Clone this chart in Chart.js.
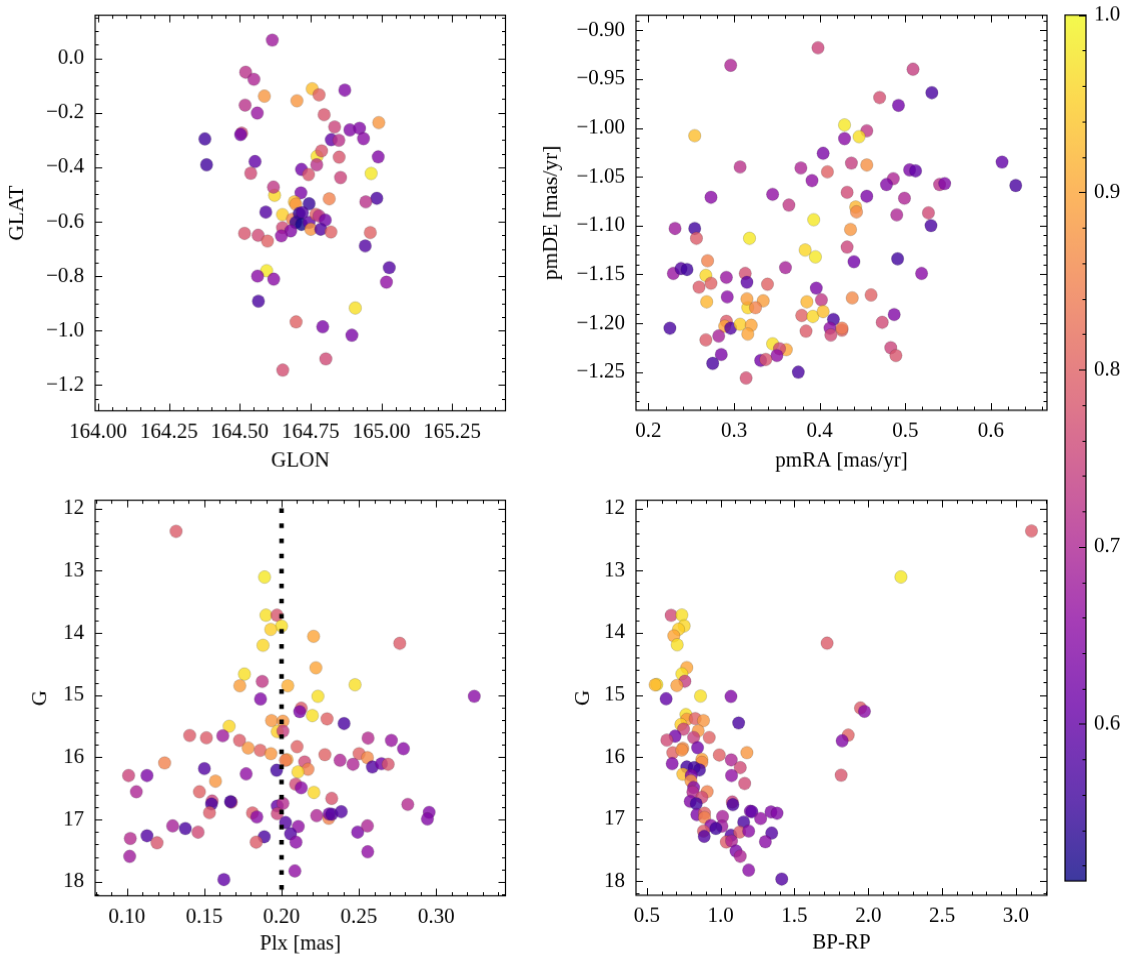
<!DOCTYPE html>
<html><head><meta charset="utf-8">
<script src="https://cdn.jsdelivr.net/npm/chart.js@4.4.0/dist/chart.umd.min.js"></script>
<style>
html,body{margin:0;padding:0;background:#fff;}
#wrap{position:relative;width:1133px;height:965px;overflow:hidden;background:#fff;}
canvas{position:absolute;}
</style></head><body><div id="wrap"></div>
<script>
// ---------- Panel A: GLON vs GLAT ----------
const glon = [164.615,164.521,164.550,164.587,164.756,164.780,164.702,164.871,164.519,164.562,164.798,164.991,164.835,164.889,164.923,164.507,164.503,164.377,164.823,164.850,164.937,164.773,164.789,164.851,164.989,164.383,164.554,164.772,164.718,164.539,164.743,164.856,164.964,164.623,164.619,164.716,164.816,164.984,164.945,164.693,164.745,164.592,164.651,164.698,164.686,164.710,164.721,164.698,164.718,164.745,164.769,164.780,164.802,164.751,164.786,164.822,164.651,164.680,164.647,164.517,164.565,164.598,164.961,164.943,165.028,165.018,164.595,164.563,164.620,164.566,164.908,164.699,164.793,164.896,164.804,164.652];
const glat = [0.067,-0.051,-0.077,-0.139,-0.112,-0.134,-0.156,-0.117,-0.172,-0.201,-0.207,-0.236,-0.252,-0.263,-0.257,-0.275,-0.280,-0.296,-0.299,-0.301,-0.295,-0.360,-0.340,-0.363,-0.362,-0.391,-0.379,-0.391,-0.408,-0.422,-0.427,-0.438,-0.423,-0.503,-0.473,-0.494,-0.516,-0.514,-0.527,-0.527,-0.534,-0.565,-0.574,-0.536,-0.591,-0.570,-0.567,-0.603,-0.610,-0.603,-0.573,-0.579,-0.594,-0.628,-0.628,-0.638,-0.622,-0.634,-0.652,-0.643,-0.650,-0.671,-0.640,-0.689,-0.769,-0.822,-0.780,-0.800,-0.811,-0.892,-0.917,-0.968,-0.986,-1.017,-1.104,-1.145];
const probA = [0.68,0.72,0.70,0.88,0.93,0.80,0.88,0.64,0.72,0.67,0.78,0.88,0.75,0.64,0.64,0.76,0.62,0.56,0.60,0.72,0.65,0.97,0.78,0.78,0.64,0.56,0.60,0.72,0.62,0.76,0.78,0.75,0.98,0.96,0.73,0.63,0.85,0.57,0.72,0.93,0.55,0.58,0.95,0.88,0.85,0.55,0.58,0.55,0.52,0.60,0.80,0.72,0.62,0.88,0.58,0.80,0.76,0.64,0.66,0.78,0.76,0.80,0.80,0.58,0.58,0.66,0.98,0.65,0.65,0.57,0.97,0.80,0.63,0.63,0.76,0.77];

// ---------- Panel B: pmRA vs pmDE ----------
const pmra = [0.398,0.296,0.509,0.531,0.470,0.492,0.254,0.429,0.455,0.429,0.446,0.404,0.307,0.378,0.437,0.455,0.409,0.391,0.505,0.512,0.613,0.629,0.486,0.478,0.540,0.546,0.273,0.345,0.432,0.455,0.499,0.364,0.442,0.443,0.490,0.527,0.393,0.231,0.254,0.256,0.318,0.383,0.395,0.432,0.436,0.530,0.440,0.491,0.519,0.229,0.238,0.245,0.269,0.267,0.259,0.273,0.291,0.313,0.315,0.339,0.360,0.396,0.402,0.268,0.292,0.316,0.315,0.334,0.325,0.385,0.438,0.460,0.487,0.379,0.392,0.404,0.416,0.473,0.291,0.289,0.296,0.307,0.320,0.316,0.225,0.384,0.412,0.426,0.426,0.413,0.267,0.282,0.345,0.361,0.353,0.350,0.285,0.275,0.331,0.337,0.483,0.489,0.375,0.314];
const pmde = [-0.918,-0.936,-0.940,-0.964,-0.969,-0.977,-1.008,-0.997,-1.003,-1.011,-1.009,-1.026,-1.040,-1.041,-1.036,-1.038,-1.045,-1.054,-1.043,-1.044,-1.035,-1.059,-1.052,-1.058,-1.058,-1.057,-1.071,-1.068,-1.066,-1.070,-1.072,-1.079,-1.081,-1.086,-1.089,-1.087,-1.094,-1.103,-1.103,-1.113,-1.113,-1.125,-1.132,-1.122,-1.104,-1.100,-1.137,-1.134,-1.149,-1.149,-1.144,-1.145,-1.136,-1.151,-1.163,-1.159,-1.153,-1.149,-1.158,-1.160,-1.143,-1.164,-1.176,-1.178,-1.173,-1.184,-1.175,-1.177,-1.184,-1.178,-1.174,-1.171,-1.191,-1.192,-1.193,-1.188,-1.196,-1.199,-1.198,-1.203,-1.205,-1.201,-1.202,-1.211,-1.205,-1.208,-1.205,-1.207,-1.205,-1.212,-1.217,-1.213,-1.221,-1.227,-1.226,-1.233,-1.232,-1.241,-1.238,-1.237,-1.225,-1.233,-1.250,-1.256];
const probB = [0.75,0.70,0.74,0.57,0.77,0.62,0.93,0.98,0.73,0.65,0.97,0.63,0.72,0.70,0.74,0.87,0.80,0.66,0.63,0.60,0.60,0.57,0.70,0.64,0.72,0.64,0.65,0.66,0.76,0.63,0.70,0.73,0.92,0.86,0.70,0.76,0.98,0.68,0.56,0.79,0.98,0.96,0.98,0.75,0.88,0.57,0.62,0.56,0.65,0.67,0.58,0.56,0.85,0.96,0.79,0.80,0.67,0.77,0.59,0.80,0.69,0.63,0.73,0.92,0.65,0.96,0.89,0.89,0.85,0.92,0.86,0.80,0.64,0.80,0.96,0.93,0.57,0.76,0.79,0.90,0.58,0.95,0.90,0.90,0.57,0.79,0.66,0.80,0.84,0.76,0.79,0.69,0.97,0.90,0.76,0.66,0.63,0.57,0.62,0.78,0.75,0.78,0.57,0.77];

// ---------- Panel C: Plx vs G ----------
const plx = [0.1318,0.189,0.1899,0.197,0.200,0.193,0.2207,0.2764,0.188,0.176,0.2222,0.1875,0.173,0.204,0.2475,0.1864,0.2235,0.3246,0.2127,0.2117,0.2199,0.2294,0.2404,0.1935,0.2009,0.1661,0.1972,0.2009,0.1406,0.1514,0.162,0.1728,0.1784,0.1862,0.1931,0.210,0.228,0.2559,0.271,0.2788,0.2501,0.2555,0.2035,0.2025,0.2378,0.2149,0.2171,0.2462,0.2587,0.2646,0.2689,0.1244,0.1011,0.113,0.1501,0.1771,0.1968,0.2106,0.1573,0.1061,0.1469,0.2091,0.2127,0.2209,0.2324,0.1551,0.1547,0.1675,0.1670,0.1972,0.2009,0.1534,0.1812,0.184,0.1972,0.2227,0.2305,0.2307,0.2325,0.2386,0.2816,0.2954,0.2943,0.1296,0.1378,0.146,0.2026,0.2108,0.2058,0.2093,0.1888,0.1836,0.2492,0.2555,0.2557,0.1022,0.113,0.1195,0.1018,0.2086,0.1627];
const gmagC = [12.367,13.102,13.715,13.715,13.890,13.944,14.055,14.167,14.199,14.662,14.561,14.780,14.849,14.849,14.833,15.062,15.019,15.019,15.211,15.265,15.329,15.382,15.456,15.409,15.419,15.500,15.585,15.579,15.648,15.686,15.653,15.728,15.850,15.888,15.941,15.829,15.957,15.691,15.728,15.861,15.941,16.005,16.037,16.047,16.047,16.074,16.191,16.111,16.154,16.101,16.111,16.090,16.292,16.292,16.180,16.265,16.207,16.234,16.383,16.553,16.553,16.431,16.489,16.564,16.660,16.702,16.750,16.720,16.713,16.782,16.740,16.889,16.894,16.958,16.905,16.937,16.979,16.910,16.915,16.873,16.756,16.884,16.990,17.101,17.144,17.203,17.048,17.112,17.229,17.363,17.277,17.363,17.203,17.101,17.517,17.304,17.261,17.373,17.591,17.826,17.965];
const probC = [0.79,0.98,0.97,0.78,0.97,0.95,0.90,0.79,0.96,0.97,0.90,0.73,0.89,0.91,0.97,0.64,0.97,0.65,0.79,0.63,0.97,0.80,0.57,0.88,0.88,0.96,0.95,0.74,0.79,0.79,0.68,0.79,0.88,0.80,0.88,0.80,0.80,0.71,0.67,0.65,0.80,0.86,0.90,0.84,0.70,0.76,0.85,0.70,0.58,0.62,0.78,0.85,0.75,0.63,0.58,0.66,0.56,0.96,0.88,0.70,0.80,0.76,0.65,0.96,0.78,0.75,0.57,0.75,0.56,0.60,0.71,0.79,0.79,0.65,0.75,0.70,0.85,0.62,0.58,0.58,0.71,0.64,0.64,0.69,0.57,0.76,0.58,0.66,0.58,0.65,0.57,0.79,0.63,0.70,0.66,0.71,0.58,0.78,0.68,0.66,0.60];
const plxRef = 0.2;

// ---------- Panel D: BP-RP vs G ----------
const bprp = [3.105,2.221,1.721,0.665,0.7375,0.753,0.715,0.683,0.706,0.771,0.7375,0.758,0.7035,0.568,0.5565,0.631,0.864,1.070,1.947,1.974,0.765,1.122,0.771,0.828,0.884,0.731,0.749,0.848,0.692,0.636,0.817,0.923,1.864,1.823,1.178,0.991,1.072,0.744,0.844,0.676,0.737,0.873,0.873,0.672,0.771,0.821,0.857,0.744,0.801,1.133,1.074,1.816,0.799,1.163,0.817,0.812,0.909,0.873,0.794,0.835,1.079,1.083,0.839,0.891,0.891,1.013,1.201,1.212,1.271,1.341,1.382,1.156,0.934,1.009,0.968,0.884,0.889,1.070,1.129,1.190,1.346,1.038,1.074,1.303,1.104,1.133,1.190,1.414];
const gmagD = [12.362,13.102,14.167,13.720,13.715,13.890,13.944,14.050,14.194,14.561,14.662,14.780,14.849,14.833,14.838,15.062,15.019,15.025,15.211,15.265,15.318,15.451,15.393,15.382,15.414,15.477,15.552,15.579,15.664,15.728,15.686,15.686,15.648,15.739,15.930,15.968,16.047,15.861,15.850,15.930,15.888,16.037,16.085,16.106,16.159,16.170,16.207,16.276,16.298,16.170,16.298,16.292,16.383,16.426,16.489,16.564,16.558,16.649,16.713,16.750,16.724,16.766,16.926,16.905,16.974,16.958,16.873,16.880,16.990,16.884,16.905,17.048,17.101,17.112,17.149,17.192,17.277,17.261,17.208,17.192,17.224,17.368,17.352,17.363,17.512,17.597,17.821,17.965];
const probD = [0.79,0.98,0.79,0.76,0.97,0.96,0.95,0.90,0.97,0.90,0.97,0.74,0.89,0.97,0.92,0.60,0.97,0.64,0.79,0.65,0.97,0.57,0.88,0.80,0.88,0.95,0.75,0.88,0.62,0.76,0.74,0.80,0.80,0.64,0.88,0.80,0.70,0.86,0.62,0.80,0.87,0.90,0.86,0.64,0.56,0.56,0.56,0.93,0.63,0.76,0.66,0.78,0.88,0.76,0.64,0.71,0.85,0.76,0.64,0.56,0.75,0.57,0.63,0.80,0.85,0.69,0.63,0.60,0.66,0.64,0.64,0.57,0.65,0.68,0.56,0.79,0.58,0.58,0.79,0.65,0.58,0.79,0.70,0.65,0.63,0.70,0.65,0.58];

// ---------- ticks ----------
const ticksGlon = [164.00,164.25,164.50,164.75,165.00,165.25];
const ticksGlat = [-1.2,-1.0,-0.8,-0.6,-0.4,-0.2,0.0];
const ticksPmra = [0.2,0.3,0.4,0.5,0.6];
const ticksPmde = [-1.25,-1.20,-1.15,-1.10,-1.05,-1.00,-0.95,-0.90];
const ticksPlx = [0.10,0.15,0.20,0.25,0.30];
const ticksG = [12,13,14,15,16,17,18];
const ticksBprp = [0.5,1.0,1.5,2.0,2.5,3.0];
const ticksProb = [0.6,0.7,0.8,0.9,1.0];

// ---------- colour map (plasma) ----------
const PLASMA = ['#0d0887','#41049d','#6a00a8','#8f0da4','#b12a90','#cc4778','#e16462','#f2844b','#fca636','#fcce25','#f0f921'];
const VMIN = 0.5114, VMAX = 1.0, ALPHA = 0.8;
function hex(h){return [parseInt(h.slice(1,3),16),parseInt(h.slice(3,5),16),parseInt(h.slice(5,7),16)];}
function plasma(t){
  t = Math.max(0, Math.min(1, t));
  const s = t*10, i = Math.min(9, Math.floor(s)), f = s - i;
  const a = hex(PLASMA[i]), b = hex(PLASMA[i+1]);
  return [0,1,2].map(k => Math.round(a[k] + (b[k]-a[k])*f));
}
function colorFor(p, alpha){
  const c = plasma((p - VMIN)/(VMAX - VMIN));
  return `rgba(${c[0]},${c[1]},${c[2]},${alpha===undefined?ALPHA:alpha})`;
}

const FONT = 'Liberation Serif';
const FS = 21;
const wrap = document.getElementById('wrap');
const minus = s => s.replace('-', '\u2212');

// place a chart so that its chart area lands exactly on the target frame
function placeChart(chart, cv, l, t, r, b){
  let a = chart.chartArea;
  const W = cv.width + ((r - l) - (a.right - a.left));
  const H = cv.height + ((b - t) - (a.bottom - a.top));
  chart.resize(W, H);
  a = chart.chartArea;
  cv.style.width = W + 'px'; cv.style.height = H + 'px';
  cv.style.left = (l - a.left) + 'px'; cv.style.top = (t - a.top) + 'px';
}

function frameTicks(cfg){
  return {
    id: 'frameTicks',
    afterDraw(chart){
      const ctx = chart.ctx, a = chart.chartArea;
      const xs = chart.scales.x, ys = chart.scales.y;
      ctx.save();
      ctx.strokeStyle = '#000';
      ctx.lineWidth = 1.2;
      ctx.strokeRect(a.left, a.top, a.right - a.left, a.bottom - a.top);
      ctx.lineWidth = 1.0;
      const MAJ = 7, MIN = 3.5;
      function minors(lo, hi, step, majors){
        const out = [];
        const s = Math.ceil(lo/step - 1e-9);
        for (let k = s; k*step <= hi + 1e-9; k++){
          const v = k*step;
          if (!majors.some(m => Math.abs(m - v) < step*0.01)) out.push(v);
        }
        return out;
      }
      ctx.beginPath();
      const xlo = Math.min(xs.min, xs.max), xhi = Math.max(xs.min, xs.max);
      const ylo = Math.min(ys.min, ys.max), yhi = Math.max(ys.min, ys.max);
      cfg.xt.forEach(v => { const p = Math.round(xs.getPixelForValue(v))+0.5;
        ctx.moveTo(p, a.bottom); ctx.lineTo(p, a.bottom - MAJ);
        ctx.moveTo(p, a.top); ctx.lineTo(p, a.top + MAJ); });
      minors(xlo, xhi, cfg.xm, cfg.xt).forEach(v => { const p = Math.round(xs.getPixelForValue(v))+0.5;
        ctx.moveTo(p, a.bottom); ctx.lineTo(p, a.bottom - MIN);
        ctx.moveTo(p, a.top); ctx.lineTo(p, a.top + MIN); });
      cfg.yt.forEach(v => { const p = Math.round(ys.getPixelForValue(v))+0.5;
        ctx.moveTo(a.left, p); ctx.lineTo(a.left + MAJ, p);
        ctx.moveTo(a.right, p); ctx.lineTo(a.right - MAJ, p); });
      minors(ylo, yhi, cfg.ym, cfg.yt).forEach(v => { const p = Math.round(ys.getPixelForValue(v))+0.5;
        ctx.moveTo(a.left, p); ctx.lineTo(a.left + MIN, p);
        ctx.moveTo(a.right, p); ctx.lineTo(a.right - MIN, p); });
      ctx.stroke();
      ctx.restore();
    }
  };
}

function panel(cfg){
  const pt = 12, pr = 14, yw = cfg.yw, xh = 70;
  const W = cfg.r - cfg.l + yw + pr, H = cfg.b - cfg.t + pt + xh;
  const cv = document.createElement('canvas');
  cv.width = W; cv.height = H;
  cv.style.left = (cfg.l - yw) + 'px'; cv.style.top = (cfg.t - pt) + 'px';
  cv.style.width = W + 'px'; cv.style.height = H + 'px';
  wrap.appendChild(cv);
  const font = {family: FONT, size: FS};
  const lh = FS*1.2;
  const datasets = [];
  if (cfg.vline !== undefined){
    datasets.push({type:'line', data:[{x:cfg.vline,y:cfg.ymin},{x:cfg.vline,y:cfg.ymax}],
      borderColor:'#000', borderWidth:4.5, borderDash:[4.5,10.2], borderDashOffset:-8, borderCapStyle:'butt',
      pointRadius:0, showLine:true, order:0, clip:false});
  }
  datasets.push({data: cfg.x.map((v,i)=>({x:v, y:cfg.y[i]})),
    backgroundColor: cfg.p.map(p => colorFor(p)),
    borderColor: 'rgba(30,30,30,0.35)', borderWidth: 0.5,
    pointRadius: 6.2, pointHoverRadius: 6.2, order: 1});
  const chart = new Chart(cv, {
    type: 'scatter',
    data: {datasets},
    options: {
      responsive: false, animation: false, devicePixelRatio: 1, events: [],
      layout: {autoPadding: false, padding: {left: 0, top: pt, right: pr, bottom: 0}},
      plugins: {legend: {display: false}, tooltip: {enabled: false}},
      scales: {
        x: {type: 'linear', min: cfg.xmin, max: cfg.xmax,
          afterFit: s => { s.height = xh; },
          afterBuildTicks: s => { s.ticks = cfg.xt.map(v => ({value: v})); },
          ticks: {font, color: '#000', padding: 8, maxRotation: 0, minRotation: 0, autoSkip: false,
            callback: v => minus(Number(v).toFixed(cfg.xd))},
          grid: {display: false, drawTicks: false}, border: {display: false},
          title: {display: true, text: cfg.xlabel, font, color: '#000',
            padding: {top: 0, bottom: (cfg.b + xh) - cfg.xTitleY - lh/2}}},
        y: {type: 'linear', min: cfg.ymin, max: cfg.ymax, reverse: !!cfg.rev,
          afterFit: s => { s.width = yw; },
          afterBuildTicks: s => { s.ticks = cfg.yt.map(v => ({value: v})); },
          ticks: {font, color: '#000', padding: 11, autoSkip: false,
            callback: v => minus(Number(v).toFixed(cfg.yd))},
          grid: {display: false, drawTicks: false}, border: {display: false},
          title: {display: true, text: cfg.ylabel, font, color: '#000',
            padding: {top: cfg.yTitleX - (cfg.l - yw) - lh/2, bottom: 0}}}
      }
    },
    plugins: [frameTicks(cfg)]
  });
  placeChart(chart, cv, cfg.l, cfg.t, cfg.r, cfg.b);
}

panel({l:95, r:504.5, t:15, b:412, yw:95, x:glon, y:glat, p:probA,
  xmin:163.9897, xmax:165.4385, ymin:-1.2945, ymax:0.1583,
  xt:ticksGlon, xm:0.05, xd:2, yt:ticksGlat, ym:0.05, yd:1,
  xlabel:'GLON', ylabel:'GLAT', xTitleY:461, yTitleX:17});

panel({l:636, r:1047, t:15, b:412, yw:100, x:pmra, y:pmde, p:probB,
  xmin:0.1854, xmax:0.6655, ymin:-1.289, ymax:-0.8847,
  xt:ticksPmra, xm:0.02, xd:1, yt:ticksPmde, ym:0.01, yd:2,
  xlabel:'pmRA [mas/yr]', ylabel:'pmDE [mas/yr]', xTitleY:461, yTitleX:551});

panel({l:95, r:504.5, t:500, b:897, yw:95, x:plx, y:gmagC, p:probC, rev:true,
  xmin:0.0795, xmax:0.3448, ymin:11.867, ymax:18.225, vline:plxRef,
  xt:ticksPlx, xm:0.01, xd:2, yt:ticksG, ym:0.2, yd:0,
  xlabel:'Plx [mas]', ylabel:'G', xTitleY:944, yTitleX:40});

panel({l:636, r:1047, t:500, b:897, yw:100, x:bprp, y:gmagD, p:probD, rev:true,
  xmin:0.427, xmax:3.21, ymin:11.867, ymax:18.225,
  xt:ticksBprp, xm:0.1, xd:1, yt:ticksG, ym:0.2, yd:0,
  xlabel:'BP-RP', ylabel:'G', xTitleY:943, yTitleX:583});

// ---------- colour bar ----------
(function(){
  const l = 1065, r = 1086, t = 15, b = 881, pl = 4, pt = 12, aw = 45;
  const W = (r - l) + pl + aw, H = (b - t) + 2*pt;
  const cv = document.createElement('canvas');
  cv.width = W; cv.height = H;
  cv.style.left = (l - pl) + 'px'; cv.style.top = (t - pt) + 'px';
  cv.style.width = W + 'px'; cv.style.height = H + 'px';
  wrap.appendChild(cv);
  const font = {family: FONT, size: FS};
  const chart = new Chart(cv, {
    type: 'scatter',
    data: {datasets: [{data: []}]},
    options: {
      responsive: false, animation: false, devicePixelRatio: 1, events: [],
      layout: {autoPadding: false, padding: {left: pl, top: pt, right: 0, bottom: pt}},
      plugins: {legend: {display: false}, tooltip: {enabled: false}},
      scales: {
        x: {type: 'linear', min: 0, max: 1, display: false},
        y: {type: 'linear', position: 'right', min: VMIN, max: VMAX,
          afterFit: s => { s.width = aw; },
          afterBuildTicks: s => { s.ticks = ticksProb.map(v => ({value: v})); },
          ticks: {font, color: '#000', padding: 8, autoSkip: false, callback: v => Number(v).toFixed(1)},
          grid: {display: false, drawTicks: false}, border: {display: false}}
      }
    },
    plugins: [{
      id: 'cbar',
      beforeDatasetsDraw(chart){
        const ctx = chart.ctx, a = chart.chartArea, ys = chart.scales.y;
        const y0 = ys.getPixelForValue(VMIN), y1 = ys.getPixelForValue(VMAX);
        const g = ctx.createLinearGradient(0, y0, 0, y1);
        for (let k = 0; k <= 40; k++){ const v = VMIN + (VMAX - VMIN)*k/40; g.addColorStop(k/40, colorFor(v)); }
        ctx.save(); ctx.fillStyle = g; ctx.fillRect(a.left, y1, a.right - a.left, y0 - y1); ctx.restore();
      },
      afterDraw(chart){
        const ctx = chart.ctx, a = chart.chartArea, ys = chart.scales.y;
        ctx.save(); ctx.strokeStyle = '#000'; ctx.lineWidth = 1.2;
        ctx.strokeRect(a.left, a.top, a.right - a.left, a.bottom - a.top);
        ctx.lineWidth = 1.0; ctx.beginPath();
        for (let k = Math.ceil(VMIN/0.02); k*0.02 <= VMAX + 1e-9; k++){
          const v = k*0.02; const major = ticksProb.some(m => Math.abs(m - v) < 1e-6);
          const p = Math.round(ys.getPixelForValue(v)) + 0.5;
          ctx.moveTo(a.right, p); ctx.lineTo(a.right - (major ? 7 : 3.5), p);
        }
        ctx.stroke(); ctx.restore();
      }
    }]
  });
  placeChart(chart, cv, l, t, r, b);
})();
</script></body></html>
